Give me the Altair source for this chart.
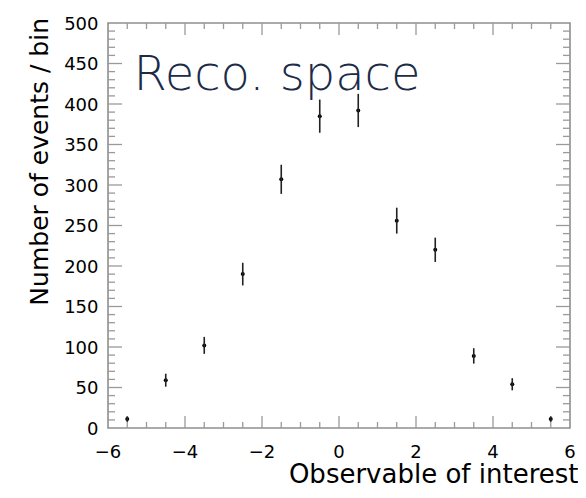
import altair as alt
import pandas as pd

# Bin centres, event counts and their uncertainties
bin_centres = [-5.5, -4.5, -3.5, -2.5, -1.5, -0.5, 0.5, 1.5, 2.5, 3.5, 4.5, 5.5]
counts = [11, 59, 102, 190, 307, 385, 392, 256, 220, 89, 54, 11]
errors = [3.5, 8, 10.5, 14, 18, 20.5, 20.5, 16, 15, 9.5, 7.5, 3.5]

# Axis tick positions and labels
x_label_values = [-6, -4, -2, 0, 2, 4, 6]
x_label_texts = ["\u22126", "\u22124", "\u22122", "0", "2", "4", "6"]
y_label_values = [0, 50, 100, 150, 200, 250, 300, 350, 400, 450, 500]
y_label_texts = ["0", "50", "100", "150", "200", "250", "300", "350", "400", "450", "500"]
x_major = [-4, -2, 0, 2, 4]
x_minor = [-5.5, -5, -4.5, -3.5, -3, -2.5, -1.5, -1, -0.5, 0.5, 1, 1.5, 2.5, 3, 3.5, 4.5, 5, 5.5]
y_major = [50, 100, 150, 200, 250, 300, 350, 400, 450]
y_minor = [v for v in range(10, 500, 10) if v % 50 != 0]

x_title = "Observable of interest"
y_title = "Number of events / bin"
annotation = "Reco. space"

W, H = 462, 405
TICK_COLOR = "#9a9a9a"
FONT = "DejaVu Sans"

df = pd.DataFrame({"x": bin_centres, "y": counts, "err": errors})
df["lo"] = df["y"] - df["err"]
df["hi"] = df["y"] + df["err"]

xs = alt.Scale(domain=[-6, 6], nice=False, zero=False)
ys = alt.Scale(domain=[0, 500], nice=False, zero=False)

base = alt.Chart(df)

points = base.mark_point(filled=True, color="black", size=16, opacity=1).encode(
    x=alt.X("x:Q", scale=xs, axis=None),
    y=alt.Y("y:Q", scale=ys, axis=None),
)
bars = base.mark_rule(color="#222222", strokeWidth=1.6).encode(
    x=alt.X("x:Q", scale=xs, axis=None),
    y=alt.Y("lo:Q", scale=ys, axis=None),
    y2="hi:Q",
)


def xticks(vals, length):
    d = pd.DataFrame({"v": vals})
    out = []
    for centre in (H - length / 2, length / 2):
        out.append(
            alt.Chart(d).mark_tick(color=TICK_COLOR, thickness=1.3, size=length,
                                   orient="vertical", opacity=1).encode(
                x=alt.X("v:Q", scale=xs, axis=None), y=alt.value(centre)
            )
        )
    return out


def yticks(vals, length):
    d = pd.DataFrame({"v": vals})
    out = []
    for centre in (length / 2, W - length / 2):
        out.append(
            alt.Chart(d).mark_tick(color=TICK_COLOR, thickness=1.3, size=length,
                                   orient="horizontal", opacity=1).encode(
                y=alt.Y("v:Q", scale=ys, axis=None), x=alt.value(centre)
            )
        )
    return out


xlabels = alt.Chart(pd.DataFrame({"xv": x_label_values, "t": x_label_texts})).mark_text(
    font=FONT, fontSize=18, color="black", align="center", baseline="alphabetic"
).encode(x=alt.X("xv:Q", scale=xs, axis=None), y=alt.value(H + 29.5), text="t:N")

ylabels = alt.Chart(pd.DataFrame({"yv": y_label_values, "t": y_label_texts})).mark_text(
    font=FONT, fontSize=18, color="black", align="right", baseline="alphabetic", dy=6.5
).encode(y=alt.Y("yv:Q", scale=ys, axis=None), x=alt.value(-9.5), text="t:N")

xtitle = alt.Chart(pd.DataFrame({"t": [x_title]})).mark_text(
    font=FONT, fontSize=26, color="black", align="right", baseline="alphabetic"
).encode(text="t:N", x=alt.value(470.5), y=alt.value(H + 54.5))

ytitle = alt.Chart(pd.DataFrame({"t": [y_title]})).mark_text(
    font=FONT, fontSize=25, color="black", align="right", baseline="alphabetic", angle=270
).encode(text="t:N", x=alt.value(-60.5), y=alt.value(-5))

label = alt.Chart(pd.DataFrame({"t": [annotation]})).mark_text(
    font="DejaVu Sans", fontSize=48, fontWeight=300, color="#1b2b48",
    align="left", baseline="alphabetic",
).encode(text="t:N", x=alt.value(25.5), y=alt.value(66.5))

layers = (
    [points, bars]
    + xticks(x_major, 12) + xticks(x_minor, 6) + yticks(y_major, 14) + yticks(y_minor, 7)
    + [label, xlabels, ylabels, xtitle, ytitle]
)

chart = alt.layer(*layers).properties(
    width=W, height=H,
    autosize=alt.AutoSizeParams(type="none"),
    padding={"left": 100, "top": 15, "right": 8, "bottom": 62},
    background="white",
).configure_view(stroke="#8e8e8e", strokeWidth=1.6)

chart.save("out.html", embed_options={"renderer": "svg", "actions": False})
